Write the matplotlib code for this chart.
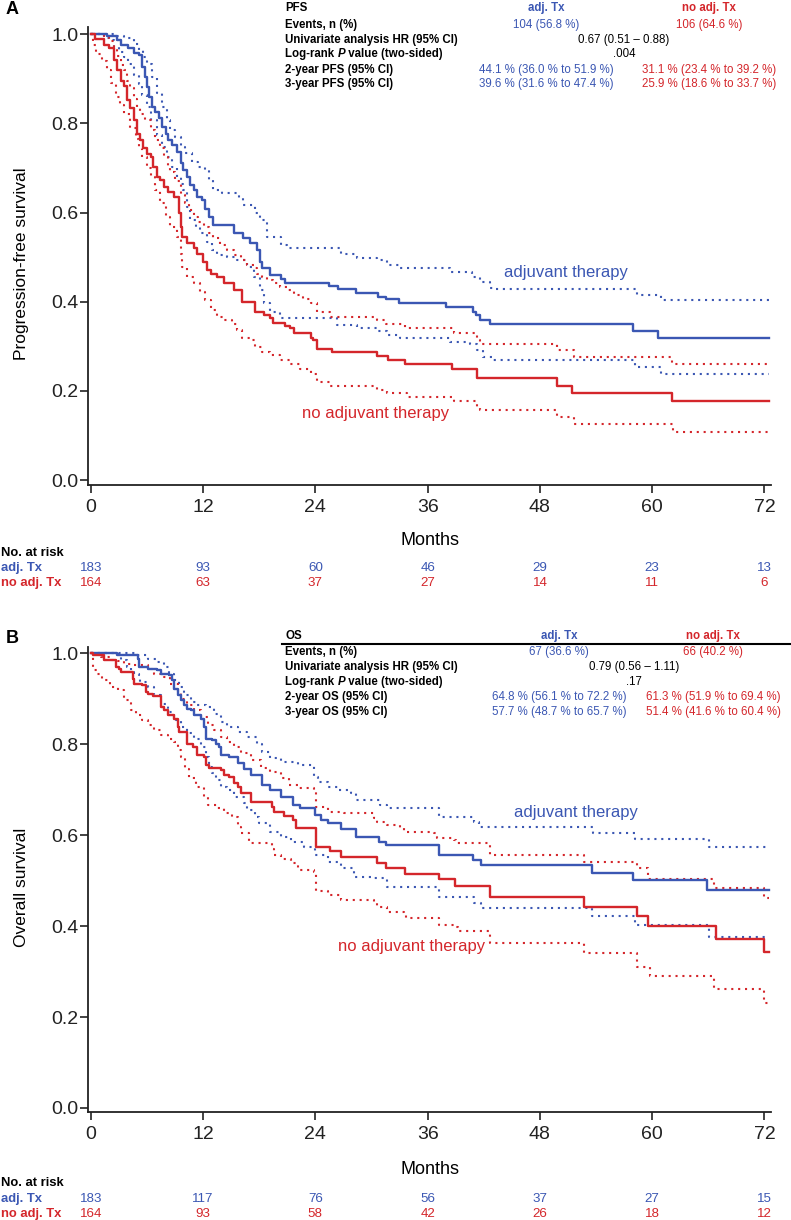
import matplotlib
matplotlib.use('Agg')
import matplotlib.pyplot as plt
from matplotlib.lines import Line2D
from matplotlib.transforms import blended_transform_factory

plt.rcParams['font.family'] = ['Liberation Sans', 'DejaVu Sans']

BLUE = '#3b57b3'
RED = '#d4262b'

# ---- data ----
months = [0, 12, 24, 36, 48, 60, 72]
followup_end = 72.5

# PFS, adjuvant therapy: (month, survival) at each step
pfs_adj = [(0, 1.0), (1.7, 0.995), (2.8, 0.987), (3.2, 0.975), (4.0, 0.968), (4.6, 0.957), (5.1, 0.953),
           (5.5, 0.927), (5.8, 0.904), (6.0, 0.882), (6.2, 0.86), (6.5, 0.837), (6.9, 0.826), (7.3, 0.811),
           (7.6, 0.792), (8.0, 0.777), (8.3, 0.762), (8.7, 0.751), (9.2, 0.736), (9.6, 0.71), (9.9, 0.695),
           (10.3, 0.68), (10.6, 0.661), (11.0, 0.65), (11.4, 0.635), (11.9, 0.628), (12.2, 0.609), (12.6, 0.59),
           (13.1, 0.572), (15.3, 0.553), (16.3, 0.542), (17.0, 0.531), (17.8, 0.516), (18.1, 0.49), (18.3, 0.475),
           (19.2, 0.46), (20.3, 0.45), (20.8, 0.441), (25.5, 0.435), (26.4, 0.428), (28.3, 0.42), (30.7, 0.411),
           (31.6, 0.405), (32.9, 0.396), (38.0, 0.389), (40.8, 0.377), (41.2, 0.37), (41.6, 0.359), (42.7, 0.35),
           (57.9, 0.334), (60.6, 0.319)]
pfs_adj_hi = [(0, 1.0), (2.5, 0.996), (3.5, 0.992), (4.6, 0.979), (5.1, 0.964), (5.6, 0.949), (6.0, 0.934),
              (6.5, 0.904), (7.1, 0.867), (7.6, 0.837), (8.1, 0.807), (8.5, 0.785), (9.0, 0.77), (9.6, 0.748),
              (10.1, 0.733), (10.8, 0.714), (11.5, 0.703), (12.2, 0.695), (12.6, 0.673), (13.1, 0.65), (14.0, 0.643),
              (15.8, 0.632), (16.3, 0.617), (17.6, 0.598), (18.1, 0.583), (18.8, 0.546), (20.3, 0.527), (21.0, 0.52),
              (26.7, 0.507), (28.5, 0.499), (30.6, 0.493), (31.7, 0.482), (33.1, 0.475), (38.4, 0.467), (40.7, 0.455),
              (41.6, 0.445), (42.7, 0.43), (43.0, 0.428), (58.4, 0.416), (60.9, 0.404)]
pfs_adj_lo = [(0, 1.0), (1.4, 0.992), (1.9, 0.987), (2.5, 0.971), (3.0, 0.96), (3.5, 0.949), (4.0, 0.934),
              (4.6, 0.908), (5.1, 0.889), (5.5, 0.863), (6.0, 0.837), (6.4, 0.807), (7.1, 0.774), (7.6, 0.748),
              (8.1, 0.725), (8.7, 0.703), (9.2, 0.68), (9.6, 0.665), (9.9, 0.65), (10.3, 0.613), (10.6, 0.583),
              (11.2, 0.568), (11.7, 0.553), (12.4, 0.534), (12.9, 0.516), (13.5, 0.504), (14.6, 0.501), (15.6, 0.493),
              (16.7, 0.478), (17.4, 0.456), (18.1, 0.426), (18.5, 0.396), (19.2, 0.377), (20.2, 0.363), (26.3, 0.348),
              (28.5, 0.34), (30.6, 0.334), (31.7, 0.325), (33.1, 0.318), (38.4, 0.31), (40.5, 0.306), (41.3, 0.291),
              (41.9, 0.276), (43.0, 0.269), (58.2, 0.254), (60.9, 0.239)]

# PFS, no adjuvant therapy
pfs_no = [(0, 1.0), (0.5, 0.99), (1.4, 0.975), (1.9, 0.968), (2.5, 0.942), (2.8, 0.92), (3.2, 0.894), (3.5, 0.883),
          (3.9, 0.852), (4.2, 0.834), (4.6, 0.807), (4.9, 0.777), (5.3, 0.762), (5.6, 0.744), (6.0, 0.732),
          (6.4, 0.725), (6.7, 0.703), (7.1, 0.68), (7.4, 0.673), (7.8, 0.658), (8.3, 0.646), (8.9, 0.635),
          (9.4, 0.6), (9.6, 0.568), (9.8, 0.546), (10.3, 0.532), (11.0, 0.52), (11.4, 0.508), (12.0, 0.49),
          (12.4, 0.471), (12.8, 0.463), (13.5, 0.456), (14.2, 0.441), (15.3, 0.426), (16.2, 0.4), (17.6, 0.377),
          (18.5, 0.37), (19.2, 0.363), (19.5, 0.353), (20.8, 0.345), (21.3, 0.341), (21.7, 0.329), (23.5, 0.318),
          (23.8, 0.314), (24.2, 0.295), (25.8, 0.288), (30.6, 0.278), (31.8, 0.269), (33.6, 0.26), (38.6, 0.25),
          (41.3, 0.228), (49.8, 0.211), (51.4, 0.196), (62.1, 0.178)]
pfs_no_hi = [(0, 1.0), (1.4, 0.995), (1.9, 0.985), (2.5, 0.965), (2.8, 0.95), (3.2, 0.93), (3.5, 0.92), (3.9, 0.895),
             (4.2, 0.88), (4.6, 0.855), (4.9, 0.835), (5.3, 0.82), (5.8, 0.807), (6.4, 0.785), (6.9, 0.762),
             (7.4, 0.744), (7.8, 0.725), (8.3, 0.703), (8.5, 0.69), (9.0, 0.67), (9.6, 0.64), (10.1, 0.621),
             (10.5, 0.605), (11.0, 0.59), (11.5, 0.579), (12.1, 0.568), (12.6, 0.553), (13.1, 0.542), (13.8, 0.527),
             (14.6, 0.516), (15.3, 0.504), (16.0, 0.493), (16.7, 0.482), (17.4, 0.475), (17.8, 0.463), (18.3, 0.456),
             (18.8, 0.448), (19.5, 0.441), (20.2, 0.434), (21.0, 0.426), (21.7, 0.415), (22.7, 0.407), (23.5, 0.396),
             (24.2, 0.377), (25.6, 0.366), (30.6, 0.359), (31.5, 0.35), (33.6, 0.34), (38.8, 0.329), (41.3, 0.314),
             (41.6, 0.305), (49.8, 0.291), (51.6, 0.276), (62.1, 0.26)]
pfs_no_lo = [(0, 1.0), (0.2, 0.975), (0.6, 0.955), (1.2, 0.94), (1.7, 0.92), (2.2, 0.89), (2.7, 0.86), (3.1, 0.84),
             (3.6, 0.82), (4.2, 0.79), (4.8, 0.765), (5.1, 0.745), (5.5, 0.725), (6.0, 0.70), (6.4, 0.68),
             (6.9, 0.65), (7.4, 0.621), (8.0, 0.59), (8.5, 0.568), (9.2, 0.546), (9.6, 0.508), (9.8, 0.478),
             (10.3, 0.456), (11.0, 0.441), (11.7, 0.422), (12.2, 0.404), (12.8, 0.381), (13.5, 0.366), (14.2, 0.359),
             (15.1, 0.351), (15.6, 0.336), (16.2, 0.318), (17.2, 0.314), (17.6, 0.299), (18.3, 0.287), (19.2, 0.28),
             (20.2, 0.269), (21.3, 0.26), (22.4, 0.25), (23.5, 0.239), (24.2, 0.22), (25.6, 0.211), (30.6, 0.203),
             (31.7, 0.196), (33.8, 0.187), (38.8, 0.177), (41.3, 0.161), (41.6, 0.157), (49.8, 0.141), (51.6, 0.126),
             (62.2, 0.108)]

# OS, adjuvant therapy
os_adj = [(0, 1.0), (2.8, 0.996), (5.0, 0.988), (5.2, 0.97), (6.1, 0.966), (7.1, 0.963), (7.5, 0.955), (8.4, 0.952),
          (8.7, 0.941), (8.9, 0.922), (9.3, 0.908), (9.6, 0.897), (10.0, 0.886), (10.3, 0.878), (10.7, 0.875),
          (11.0, 0.864), (11.8, 0.856), (12.1, 0.838), (12.3, 0.812), (13.0, 0.809), (13.4, 0.801), (13.7, 0.794),
          (13.9, 0.776), (14.8, 0.772), (15.7, 0.758), (16.4, 0.746), (17.1, 0.732), (18.3, 0.71), (19.2, 0.699),
          (20.3, 0.684), (21.6, 0.666), (22.4, 0.659), (24.0, 0.645), (24.6, 0.633), (25.3, 0.626), (26.7, 0.613),
          (28.3, 0.596), (30.8, 0.585), (31.6, 0.578), (37.2, 0.556), (40.8, 0.545), (41.7, 0.534), (53.6, 0.517),
          (57.9, 0.501), (65.9, 0.479)]
os_adj_hi = [(0, 1.0), (4.8, 0.996), (6.1, 0.988), (7.1, 0.981), (7.8, 0.97), (8.4, 0.955), (8.9, 0.941),
             (9.4, 0.926), (10.0, 0.908), (10.7, 0.893), (11.4, 0.886), (12.3, 0.882), (13.2, 0.867), (13.9, 0.849),
             (14.6, 0.838), (15.7, 0.827), (16.7, 0.816), (17.8, 0.801), (18.3, 0.783), (19.2, 0.769), (20.3, 0.761),
             (22.1, 0.754), (23.9, 0.728), (24.3, 0.717), (25.3, 0.706), (26.4, 0.699), (27.8, 0.692), (28.3, 0.677),
             (30.9, 0.666), (31.7, 0.659), (37.2, 0.64), (41.0, 0.629), (41.5, 0.618), (53.7, 0.605), (58.2, 0.591),
             (66.1, 0.574)]
os_adj_lo = [(0, 1.0), (2.5, 0.998), (3.2, 0.985), (3.9, 0.97), (4.3, 0.959), (4.6, 0.955), (5.2, 0.952),
             (5.3, 0.937), (6.1, 0.926), (6.8, 0.908), (7.5, 0.889), (8.2, 0.871), (8.9, 0.853), (9.6, 0.838),
             (10.3, 0.824), (11.0, 0.812), (11.8, 0.794), (12.3, 0.772), (12.6, 0.75), (13.0, 0.736), (13.4, 0.721),
             (13.9, 0.706), (14.6, 0.699), (15.3, 0.684), (16.4, 0.67), (16.7, 0.655), (17.5, 0.64), (18.0, 0.626),
             (19.2, 0.607), (20.3, 0.596), (21.4, 0.585), (22.8, 0.574), (24.0, 0.556), (25.3, 0.541), (26.7, 0.527),
             (28.1, 0.508), (29.9, 0.505), (31.7, 0.486), (37.2, 0.464), (41.0, 0.45), (41.7, 0.439), (53.6, 0.422),
             (58.2, 0.402), (66.1, 0.376)]

# OS, no adjuvant therapy
os_no = [(0, 1.0), (0.2, 0.996), (1.4, 0.985), (2.7, 0.97), (3.0, 0.966), (3.2, 0.959), (4.5, 0.944), (4.6, 0.933),
         (5.5, 0.93), (5.9, 0.915), (6.1, 0.911), (6.6, 0.906), (7.5, 0.882), (7.8, 0.875), (8.2, 0.864),
         (8.9, 0.856), (9.3, 0.838), (9.4, 0.827), (10.3, 0.801), (10.9, 0.794), (11.4, 0.776), (12.1, 0.772),
         (12.3, 0.754), (12.6, 0.747), (13.9, 0.743), (14.2, 0.732), (14.8, 0.728), (15.3, 0.714), (15.7, 0.706),
         (16.0, 0.692), (17.1, 0.673), (19.4, 0.662), (19.6, 0.651), (20.7, 0.642), (21.6, 0.633), (21.9, 0.615),
         (24.1, 0.574), (25.6, 0.565), (26.7, 0.551), (30.6, 0.538), (31.5, 0.527), (33.6, 0.514), (37.2, 0.503),
         (38.9, 0.489), (42.7, 0.463), (52.7, 0.442), (58.4, 0.422), (59.6, 0.4), (66.8, 0.371), (71.9, 0.344)]
os_no_hi = [(0, 1.0), (0.5, 0.998), (1.1, 0.992), (2.1, 0.985), (2.9, 0.983), (3.6, 0.977), (4.6, 0.974),
            (6.1, 0.966), (6.8, 0.955), (7.8, 0.948), (8.5, 0.933), (9.3, 0.915), (9.6, 0.9), (10.3, 0.886),
            (11.0, 0.875), (11.8, 0.86), (12.5, 0.842), (13.2, 0.831), (13.9, 0.816), (14.6, 0.805), (15.3, 0.794),
            (16.0, 0.78), (17.1, 0.765), (18.2, 0.747), (19.2, 0.739), (20.3, 0.725), (21.2, 0.71), (22.1, 0.703),
            (23.9, 0.695), (24.1, 0.662), (25.3, 0.651), (27.1, 0.648), (30.3, 0.637), (30.6, 0.629), (31.7, 0.622),
            (33.1, 0.615), (33.5, 0.607), (36.7, 0.604), (37.0, 0.593), (38.8, 0.589), (39.0, 0.582), (42.7, 0.556),
            (52.7, 0.541), (58.4, 0.527), (59.6, 0.503), (66.6, 0.483), (71.9, 0.461)]
os_no_lo = [(0, 1.0), (0.2, 0.963), (0.7, 0.955), (1.2, 0.941), (2.1, 0.926), (2.9, 0.919), (3.6, 0.897),
            (4.3, 0.875), (4.8, 0.864), (5.5, 0.853), (6.1, 0.842), (6.8, 0.831), (7.5, 0.82), (8.2, 0.812),
            (8.9, 0.805), (9.3, 0.787), (9.6, 0.772), (10.1, 0.745), (10.5, 0.725), (11.2, 0.705), (12.1, 0.685),
            (12.5, 0.667), (13.5, 0.659), (14.2, 0.648), (15.1, 0.64), (15.7, 0.618), (16.0, 0.604), (16.9, 0.582),
            (19.4, 0.57), (19.6, 0.556), (20.3, 0.547), (21.4, 0.538), (22.1, 0.523), (23.9, 0.519), (24.1, 0.478),
            (25.3, 0.468), (26.7, 0.457), (30.3, 0.451), (30.6, 0.442), (31.7, 0.431), (33.5, 0.428), (33.7, 0.417),
            (37.2, 0.402), (38.8, 0.398), (39.2, 0.39), (42.7, 0.362), (52.7, 0.34), (58.4, 0.31), (59.8, 0.29),
            (66.6, 0.261), (71.9, 0.23)]

# numbers at risk
pfs_risk_adj = [183, 93, 60, 46, 29, 23, 13]
pfs_risk_no = [164, 63, 37, 27, 14, 11, 6]
os_risk_adj = [183, 117, 76, 56, 37, 27, 15]
os_risk_no = [164, 93, 58, 42, 26, 18, 12]

# summary tables
pfs_table = [
    ('Events, n (%)', '104 (56.8 %)', None, '106 (64.6 %)'),
    ('Univariate analysis HR (95% CI)', None, '0.67 (0.51 \u2013 0.88)', None),
    ('Log-rank P value (two-sided)', None, '.004', None),
    ('2-year PFS (95% CI)', '44.1 % (36.0 % to 51.9 %)', None, '31.1 % (23.4 % to 39.2 %)'),
    ('3-year PFS (95% CI)', '39.6 % (31.6 % to 47.4 %)', None, '25.9 % (18.6 % to 33.7 %)'),
]
os_table = [
    ('Events, n (%)', '67 (36.6 %)', None, '66 (40.2 %)'),
    ('Univariate analysis HR (95% CI)', None, '0.79 (0.56 \u2013 1.11)', None),
    ('Log-rank P value (two-sided)', None, '.17', None),
    ('2-year OS (95% CI)', '64.8 % (56.1 % to 72.2 %)', None, '61.3 % (51.9 % to 69.4 %)'),
    ('3-year OS (95% CI)', '57.7 % (48.7 % to 65.7 %)', None, '51.4 % (41.6 % to 60.4 %)'),
]

W, H = 791, 1220
fig = plt.figure(figsize=(W / 100, H / 100), dpi=100)


def fy(py):
    return 1 - py / H


def km(ax, pts, color, dotted=False):
    t = [p[0] for p in pts] + [followup_end]
    s = [p[1] for p in pts] + [pts[-1][1]]
    if dotted:
        ax.step(t, s, where='post', color=color, lw=1.5, linestyle=(0, (1, 2.3)))
    else:
        ax.step(t, s, where='post', color=color, lw=1.7)


def rich_text(x, y, parts, **kw):
    # draw text pieces one after another (for the italic P)
    r = fig.canvas.get_renderer()
    for txt, style in parts:
        t = fig.text(x, y, txt, style=style, **kw)
        bb = t.get_window_extent(renderer=r)
        x += bb.width / W


def panel(bottom_px, top_px, ylo, yhi, curves, ylabel, letter, title, table, rows_y, cols,
          risk_adj, risk_no, risk_y, labels, header_line):
    ax = fig.add_axes([88 / W, fy(bottom_px), (771 - 88) / W, (bottom_px - top_px) / H])
    for pts, col, dot in curves:
        km(ax, pts, col, dot)
    ax.set_xlim(-0.3, 72.7)
    ax.set_ylim(ylo, yhi)
    ax.set_xticks(months)
    ax.set_yticks([0, 0.2, 0.4, 0.6, 0.8, 1.0])
    ax.set_yticklabels(['0.0', '0.2', '0.4', '0.6', '0.8', '1.0'])
    ax.tick_params(axis='both', direction='out', length=6, width=1.2, colors='#222222', labelsize=14)
    ax.tick_params(axis='y', pad=1)
    ax.tick_params(axis='x', pad=4)
    for sp in ['top', 'right']:
        ax.spines[sp].set_visible(False)
    for sp in ['left', 'bottom']:
        ax.spines[sp].set_linewidth(1.3)
        ax.spines[sp].set_color('#222222')

    # curve labels
    (lx1, ly1), (lx2, ly2) = labels
    ax.text(lx1, ly1, 'adjuvant therapy', color=BLUE, fontsize=12, ha='center', va='center')
    ax.text(lx2, ly2, 'no adjuvant therapy', color=RED, fontsize=12, ha='center', va='center')

    fig.text(22 / W, fy((top_px + bottom_px) / 2 + 8), ylabel, rotation=90, fontsize=12.5,
             ha='center', va='center')
    fig.text(6 / W, fy(rows_y[0] + 2), letter, fontsize=13, fontweight='bold', ha='left', va='center')

    # summary table
    fs = 8.3
    lab_x, c_blue, c_mid, c_red = cols
    fig.text(lab_x / W, fy(rows_y[0]), title, fontsize=fs, fontweight='bold', va='center')
    fig.text(c_blue / W, fy(rows_y[0]), 'adj. Tx', fontsize=fs, fontweight='bold', color=BLUE,
             ha='center', va='center')
    fig.text(c_red / W, fy(rows_y[0]), 'no adj. Tx', fontsize=fs, fontweight='bold', color=RED,
             ha='center', va='center')
    if header_line:
        line_y = fy(rows_y[0] + 8)
        fig.add_artist(Line2D([(lab_x - 3) / W, 1.0], [line_y, line_y], color='black', lw=1.5))
    for (lab, vb, vm, vr), ry in zip(table, rows_y[1:]):
        if 'P value' in lab:
            rich_text(lab_x / W, fy(ry), [('Log-rank ', 'normal'), ('P', 'italic'),
                                          (' value (two-sided)', 'normal')],
                      fontsize=fs, fontweight='bold', va='center')
        else:
            fig.text(lab_x / W, fy(ry), lab, fontsize=fs, fontweight='bold', va='center')
        if vb:
            fig.text(c_blue / W, fy(ry), vb, fontsize=fs, color=BLUE, ha='center', va='center')
        if vm:
            fig.text(c_mid / W, fy(ry), vm, fontsize=fs, color='black', ha='center', va='center')
        if vr:
            fig.text(c_red / W, fy(ry), vr, fontsize=fs, color=RED, ha='center', va='center')

    # months label and risk table
    fig.text(429.5 / W, fy(risk_y[0] - 13), 'Months', fontsize=13, ha='center', va='center')
    fig.text(1 / W, fy(risk_y[0]), 'No. at risk', fontsize=9.4, fontweight='bold', va='center')
    fig.text(1 / W, fy(risk_y[1]), 'adj. Tx', fontsize=9.4, fontweight='bold', color=BLUE, va='center')
    fig.text(1 / W, fy(risk_y[2]), 'no adj. Tx', fontsize=9.4, fontweight='bold', color=RED, va='center')
    tr = blended_transform_factory(ax.transData, fig.transFigure)
    for m, a, n in zip(months, risk_adj, risk_no):
        ax.text(m, fy(risk_y[1]), str(a), transform=tr, fontsize=9.6, color=BLUE, ha='center', va='center')
        ax.text(m, fy(risk_y[2]), str(n), transform=tr, fontsize=9.6, color=RED, ha='center', va='center')
    return ax


panel(485, 27, -0.011, 1.016,
      [(pfs_adj_hi, BLUE, True), (pfs_adj_lo, BLUE, True), (pfs_no_hi, RED, True), (pfs_no_lo, RED, True),
       (pfs_adj, BLUE, False), (pfs_no, RED, False)],
      'Progression-free survival', 'A', 'PFS', pfs_table, [8, 25, 40, 54, 70, 84],
      (285, 546, 624, 709), pfs_risk_adj, pfs_risk_no, [553, 568, 583],
      [(50.8, 0.465), (30.4, 0.15)], False)

panel(1112, 647, -0.009, 1.014,
      [(os_adj_hi, BLUE, True), (os_adj_lo, BLUE, True), (os_no_hi, RED, True), (os_no_lo, RED, True),
       (os_adj, BLUE, False), (os_no, RED, False)],
      'Overall survival', 'B', 'OS', os_table, [636, 652, 667, 682, 697, 712],
      (285, 559, 634, 713), os_risk_adj, os_risk_no, [1183, 1199, 1214],
      [(51.8, 0.65), (34.3, 0.355)], True)

fig.savefig('out.png', dpi=100)
